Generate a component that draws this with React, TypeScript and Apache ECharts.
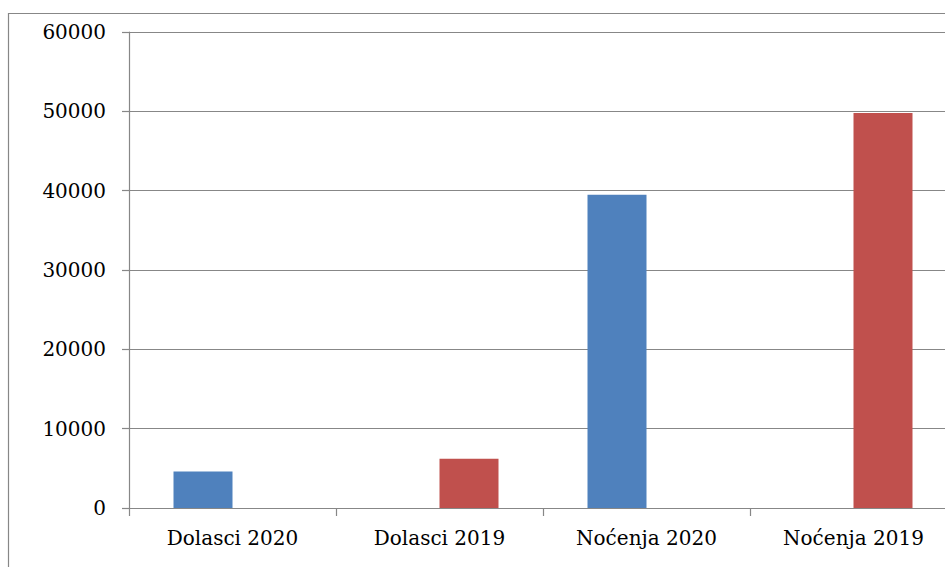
import React, { useEffect, useRef } from "react";
import * as echarts from "echarts";

const categories = ["Dolasci 2020", "Dolasci 2019", "Noćenja 2020", "Noćenja 2019"];
const series2020 = [4600, "-", 39500, "-"];
const series2019 = ["-", 6200, "-", 49800];
const yMin = 0;
const yMax = 60000;
const yInterval = 10000;

export default function App() {
  const ref = useRef<HTMLDivElement>(null);
  useEffect(() => {
    if (!ref.current) return;
    const chart = echarts.init(ref.current, undefined, { renderer: "svg" });
    const gray = "#878787";
    const font = "DejaVu Serif";
    chart.setOption({
      animation: false,
      backgroundColor: "#ffffff",
      graphic: [
        {
          type: "rect",
          shape: { x: 8.5, y: 13.5, width: 1200, height: 1000 },
          style: { fill: "none", stroke: gray, lineWidth: 1.2 },
          z: 0,
          silent: true,
        },
      ],
      grid: { left: 129, top: 32, width: 828, height: 476, containLabel: false },
      xAxis: {
        type: "category",
        data: categories,
        boundaryGap: true,
        axisLine: { show: true, lineStyle: { color: gray, width: 1.2 } },
        axisTick: { show: true, length: 8, lineStyle: { color: gray, width: 1.2 } },
        axisLabel: { color: "#000", fontFamily: font, fontSize: 20, margin: 20 },
        splitLine: { show: false },
      },
      yAxis: {
        type: "value",
        min: yMin,
        max: yMax,
        interval: yInterval,
        axisLine: { show: true, lineStyle: { color: gray, width: 1.2 } },
        axisTick: { show: true, length: 7, lineStyle: { color: gray, width: 1.2 } },
        axisLabel: {
          color: "#000",
          fontFamily: font,
          fontSize: 20,
          margin: 23,
          formatter: (v: number) => String(v),
        },
        splitLine: { show: true, lineStyle: { color: gray, width: 1.2 } },
      },
      series: [
        {
          name: "2020",
          type: "bar",
          data: series2020,
          barWidth: 59,
          barGap: "0%",
          itemStyle: { color: "#4F81BD" },
        },
        {
          name: "2019",
          type: "bar",
          data: series2019,
          barWidth: 59,
          barGap: "0%",
          itemStyle: { color: "#C0504D" },
        },
      ],
    });
    return () => chart.dispose();
  }, []);
  return (
    <div
      style={{
        position: "fixed",
        left: 0,
        top: 0,
        width: 945,
        height: 567,
        overflow: "hidden",
        background: "#fff",
      }}
    >
      <div ref={ref} style={{ width: 975, height: 567 }} />
    </div>
  );
}
